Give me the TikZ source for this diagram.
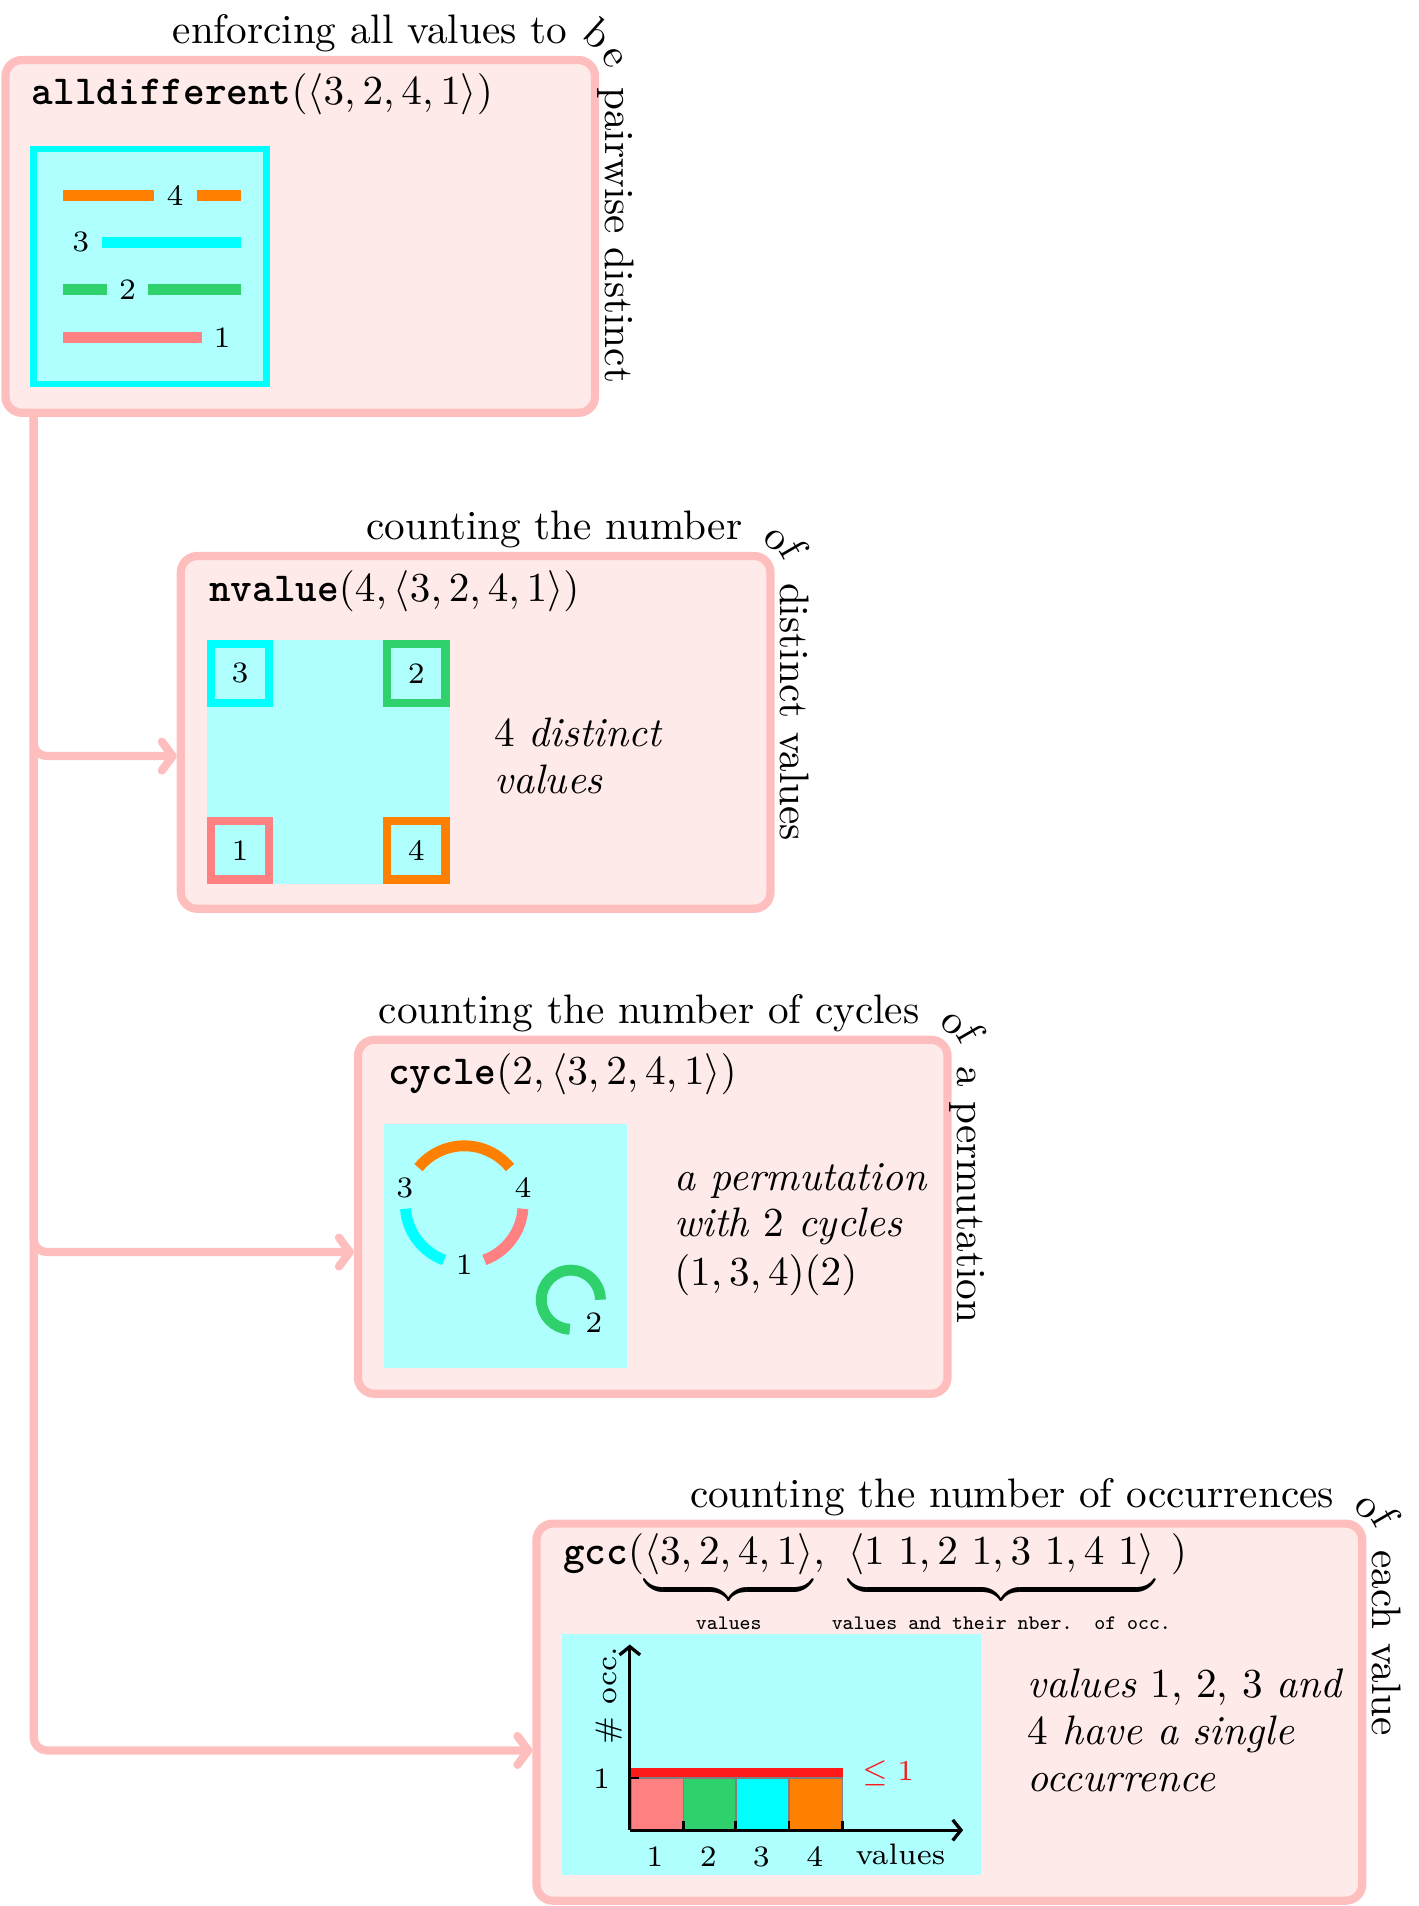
\documentclass[tikz,border=0pt]{standalone}
\usetikzlibrary{arrows.meta,calc}
\definecolor{boxfill}{RGB}{255,234,234}
\definecolor{boxline}{RGB}{255,190,190}
\definecolor{cyanbg}{RGB}{176,255,255}
\definecolor{mycyan}{RGB}{0,255,255}
\definecolor{myorange}{RGB}{255,128,0}
\definecolor{mygreen}{RGB}{46,209,107}
\definecolor{mysalmon}{RGB}{255,128,128}
\definecolor{myred}{RGB}{255,26,26}
\begin{document}
\begin{tikzpicture}[x=0.295pt,y=-0.295pt,
  box/.style={draw=boxline, fill=boxfill, line width=2pt, rounded corners=4pt, inner sep=0pt},
  conn/.style={draw=boxline, line width=2pt, rounded corners=3.2pt,
    -{Straight Barb[length=2.6pt,width=7pt,line cap=round,line join=round]}},
  plain/.style={inner sep=0pt},
  ttl/.style={inner sep=0pt, anchor=base west},
  side/.style={inner sep=0pt, anchor=base west},
  vert/.style={inner sep=0pt, rotate=-90, anchor=base west},
  small/.style={inner sep=0pt, font=\fontsize{7.2}{9}\selectfont},
  bar/.style={line width=2.6pt},
  sq/.style={draw, line width=2pt, fill=cyanbg, minimum size=14.2pt, inner sep=0pt, font=\fontsize{7.2}{9}\selectfont},
  arc/.style={line width=2.65pt},
  axis/.style={line width=0.8pt, -{Straight Barb[length=2pt,width=5pt]}},
  tick/.style={line width=0.65pt},
  hbar/.style={draw=gray, line width=0.4pt}
]
\useasboundingbox (0,0) rectangle (1167,1568);

% ---------- boxes
\node[box, minimum width=143.1pt, minimum height=85.6pt] (b1) at (247,194.5) {};
\node[box, minimum width=143.1pt, minimum height=85.6pt] (b2) at (391.3,602.5) {};
\node[box, minimum width=143.1pt, minimum height=85.9pt] (b3) at (537,1001) {};
\node[box, minimum width=200.4pt, minimum height=91.5pt] (b4) at (781,1408.5) {};

% ---------- connectors
\coordinate (c0) at ($(b1.south west)+(26.6,0)$);
\draw[conn] (c0) |- ($(b2.west)+(0,19.5)$);
\draw[conn] (c0) |- ($(b3.west)+(0,29)$);
\draw[conn] (c0) |- ($(b4.west)+(0,31.5)$);

% ---------- labels around the boxes
\node[plain, anchor=base east] (l1a) at (467,36) {enforcing all values to};
\node[plain, rotate=-42] (l1b) at (492,27.4) {b};
\node[plain, rotate=-60] (l1c) at (504.4,48) {e};
\node[vert] (l1d) at (498,71) {pairwise distinct};

\node[plain, anchor=base east] (l2a) at (611.3,444) {counting the number};
\node[plain, rotate=-45] (l2b) at (637.3,444.5) {o};
\node[plain, rotate=-60] (l2c) at (653.7,451.4) {f};
\node[vert] (l2d) at (642.3,479) {distinct values};

\node[plain, anchor=base east] (l3a) at (757,842) {counting the number of cycles};
\node[plain, rotate=-45] (l3b) at (783,842.5) {o};
\node[plain, rotate=-60] (l3c) at (799.4,849.4) {f};
\node[vert] (l3d) at (788,877) {a permutation};

\node[plain, anchor=base east] (l4a) at (1098,1240) {counting the number of occurrences};
\node[plain, rotate=-45] (l4b) at (1124,1240.5) {o};
\node[plain, rotate=-60] (l4c) at (1140.4,1247.4) {f};
\node[vert] (l4d) at (1129,1275) {each value};

% ---------- titles
\node[ttl] (t1) at (25.6,86) {\texttt{\textbf{alldifferent}}$(\langle 3,2,4,1\rangle)$};
\node[ttl] (t2) at (171.4,495) {\texttt{\textbf{nvalue}}$(4,\langle 3,2,4,1\rangle)$};
\node[ttl] (t3) at (318.7,892.3) {\texttt{\textbf{cycle}}$(2,\langle 3,2,4,1\rangle)$};
\node[ttl] (t4) at (462.6,1287) {\texttt{\textbf{gcc}}$(\underbrace{\langle 3,2,4,1\rangle}_{\mbox{\fontsize{5}{6}\selectfont\ttfamily values}},\underbrace{\langle 1\ 1,2\ 1,3\ 1,4\ 1\rangle}_{\mbox{\fontsize{5}{6}\selectfont\ttfamily values and their nber.\ \ of occ.}})$};

% ---------- box 1 content
\draw[mycyan, line width=1.6pt, fill=cyanbg] (27.75,122.5) rectangle (219.25,315.8);
\draw[bar, myorange] (52,160.6) -- (127,160.6);
\draw[bar, myorange] (162,160.6) -- (198,160.6);
\node[small] (v4) at (144,160.6) {4};
\draw[bar, mycyan] (84,199.4) -- (198,199.4);
\node[small] (v3) at (66.5,199.4) {3};
\draw[bar, mygreen] (52,238) -- (88,238);
\draw[bar, mygreen] (122,238) -- (198,238);
\node[small] (v2) at (105,238) {2};
\draw[bar, mysalmon] (52,277.4) -- (166,277.4);
\node[small] (v1) at (182.6,277.4) {1};

% ---------- box 2 content
\fill[cyanbg] (170,526.5) rectangle (370,727.5);
\node[sq, draw=mycyan] (s3) at (197.5,554) {3};
\node[sq, draw=mygreen] (s2) at (342.5,554) {2};
\node[sq, draw=mysalmon] (s1) at (197.5,699.5) {1};
\node[sq, draw=myorange] (s4) at (342.5,699.5) {4};
\node[side] (d1) at (406,614) {4 \textit{distinct}};
\node[side] (d2) at (406,652.5) {\textit{values}};

% ---------- box 3 content
\fill[cyanbg] (316,925) rectangle (516,1125);
\coordinate (C) at (381.9,991);
\coordinate (G) at (469.6,1069.2);
\draw[arc, mycyan] (C) ++(184:14.28pt) arc[start angle=184, end angle=250, radius=14.28pt];
\draw[arc, myorange] (C) ++(39:14.28pt) arc[start angle=39, end angle=141, radius=14.28pt];
\draw[arc, mysalmon] (C) ++(290:14.28pt) arc[start angle=290, end angle=356, radius=14.28pt];
\draw[arc, mygreen] (G) ++(0:7.17pt) arc[start angle=0, end angle=268, radius=7.17pt];
\node[small] (p3) at (333.1,977.3) {3};
\node[small] (p4) at (430.4,977.3) {4};
\node[small] (p1) at (381.9,1040.4) {1};
\node[small] (p2) at (488.5,1088.4) {2};
\node[side] (e1) at (554,979.3) {\textit{a permutation}};
\node[side] (e2) at (554,1017.6) {\textit{with} 2 \textit{cycles}};
\node[side] (e3) at (554,1057.6) {$(1,3,4)(2)$};

% ---------- box 4 content
\fill[cyanbg] (462,1344) rectangle (807,1542.5);
\filldraw[hbar, fill=mysalmon] (519.5,1462.6) rectangle (562.3,1505.6);
\filldraw[hbar, fill=mygreen] (562.3,1462.6) rectangle (605.3,1505.6);
\filldraw[hbar, fill=mycyan] (605.3,1462.6) rectangle (649.2,1505.6);
\filldraw[hbar, fill=myorange] (649.2,1462.6) rectangle (693.1,1505.6);
\fill[myred] (519.5,1454.3) rectangle (693.5,1461.5);
\coordinate (O) at (518.1,1505.6);
\coordinate (ytop) at (518.1,1352.9);
\coordinate (xend) at (792.3,1505.6);
\draw[tick] (562.3,1497.9) -- (562.3,1505.6);
\draw[tick] (605.3,1497.9) -- (605.3,1505.6);
\draw[tick] (649.2,1497.9) -- (649.2,1505.6);
\draw[tick] (693.1,1497.9) -- (693.1,1505.6);
\draw[tick] (518.1,1462.6) -- (525.5,1462.6);
\draw[axis] (O) -- (ytop);
\draw[axis] (O) -- (xend);
\node[small] (y1) at (494.8,1463.4) {1};
\node[small] (x1) at (538.7,1527.5) {1};
\node[small] (x2) at (582.6,1527.5) {2};
\node[small] (x3) at (626.4,1527.5) {3};
\node[small] (x4) at (670.3,1527.5) {4};
\node[small] (xv) at (740.8,1525.6) {values};
\node[small, text=myred] (le) at (730.6,1458.5) {$\leq 1$};
\node[small, rotate=90] (yl) at (500.9,1394.9) {\# occ.};
\node[side] (g1) at (845,1396.8) {\textit{values} 1, 2, 3 \textit{and}};
\node[side] (g2) at (845,1435.2) {4 \textit{have a single}};
\node[side] (g3) at (845,1473.5) {\textit{occurrence}};
\end{tikzpicture}
\end{document}
